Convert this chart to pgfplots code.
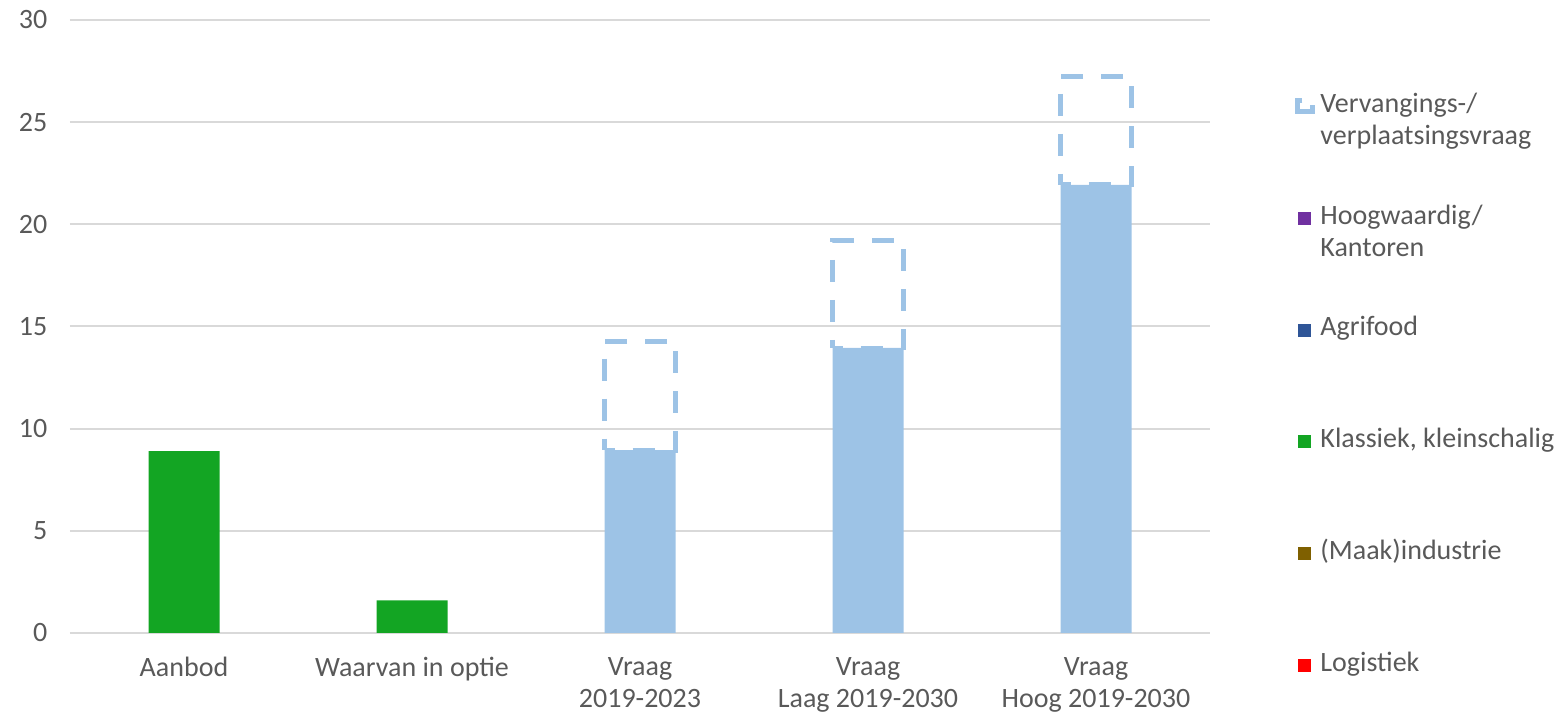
\documentclass[border=0pt]{standalone}
\usepackage{fontspec}
\setmainfont{Carlito}
\usepackage{pgfplots}
\pgfplotsset{compat=1.18}
\definecolor{txt}{HTML}{595959}
\definecolor{gridc}{HTML}{D9D9D9}
\definecolor{lblue}{HTML}{9DC3E6}
\definecolor{kgreen}{HTML}{13A523}
\definecolor{kpurple}{HTML}{7030A0}
\definecolor{kdblue}{HTML}{2F5597}
\definecolor{kbrown}{HTML}{7F6000}
\definecolor{kred}{HTML}{FF0000}
\newcommand{\lfont}{\fontsize{14}{16}\selectfont}
\begin{document}
\begin{tikzpicture}
\path[use as bounding box] (-35pt,-44pt) rectangle (745pt,316.5pt);
\begin{axis}[
  at={(0,0)}, anchor=south west,
  scale only axis, width=570pt, height=306.5pt,
  xmin=-0.5, xmax=4.5, ymin=0, ymax=30,
  ytick={0,5,...,30}, xtick={0,1,2,3,4},
  xticklabels={Aanbod, Waarvan in optie, Vraag\\2019-2023, Vraag\\Laag 2019-2030, Vraag\\Hoog 2019-2030},
  font=\lfont,
  xticklabel style={align=center, text=txt, font=\lfont, yshift=-8.5pt},
  yticklabel style={text=txt, font=\lfont, xshift=-7.8pt},
  /pgf/number format/assume math mode=true,
  axis line style={draw=none},
  tick style={draw=none},
  ymajorgrids, grid style={gridc, line width=1pt},
  ybar stacked, bar width=35.5pt,
  legend style={at={(1.0746,0.8736)}, anchor=north west, inner sep=0pt, draw=none, fill=none,
    column sep=2.5pt, row sep=48.2pt, cells={anchor=base west},
    nodes={inner sep=0pt, text=txt, font=\lfont}},
]
\addplot[forget plot, fill=lblue, draw=none] coordinates {(2,8.95) (3,13.95) (4,21.93)};
\addplot[forget plot, fill=none, draw=lblue, line width=2.4pt, dash pattern=on 11pt off 9pt, dash phase=6pt] coordinates {(2,5.32) (3,5.24) (4,5.31)};

\addlegendimage{legend image code/.code={\draw[lblue, line width=2.5pt] (3.5pt,6pt) -- (1.25pt,6pt) -- (1.25pt,0.25pt) -- (8.75pt,0.25pt) -- (8.75pt,3.5pt);}}
\addlegendentry{\smash{\begin{tabular}[t]{@{}l@{}}Vervangings-/\\verplaatsingsvraag\end{tabular}}}
\addlegendimage{legend image code/.code={\fill[kpurple] (1.5pt,0pt) rectangle (7.5pt,6pt);}}
\addlegendentry{\smash{\begin{tabular}[t]{@{}l@{}}Hoogwaardig/\\Kantoren\end{tabular}}}
\addlegendimage{legend image code/.code={\fill[kdblue] (1.5pt,0pt) rectangle (7.5pt,6pt);}}
\addlegendentry{\smash{Agrifood}}
\addlegendimage{legend image code/.code={\fill[kgreen] (1.5pt,0pt) rectangle (7.5pt,6pt);}}
\addlegendentry{\smash{Klassiek, kleinschalig}}
\addlegendimage{legend image code/.code={\fill[kbrown] (1.5pt,0pt) rectangle (7.5pt,6pt);}}
\addlegendentry{\smash{(Maak)industrie}}
\addlegendimage{legend image code/.code={\fill[kred] (1.5pt,0pt) rectangle (7.5pt,6pt);}}
\addlegendentry{\smash{Logistiek}}
\end{axis}
\begin{axis}[
  at={(0,0)}, anchor=south west,
  scale only axis, width=570pt, height=306.5pt,
  xmin=-0.5, xmax=4.5, ymin=0, ymax=30,
  hide axis,
  ybar, bar shift=0pt, bar width=35.5pt,
]
\addplot[fill=kgreen, draw=none] coordinates {(0,8.9) (1,1.6)};
\end{axis}
\end{tikzpicture}
\end{document}
